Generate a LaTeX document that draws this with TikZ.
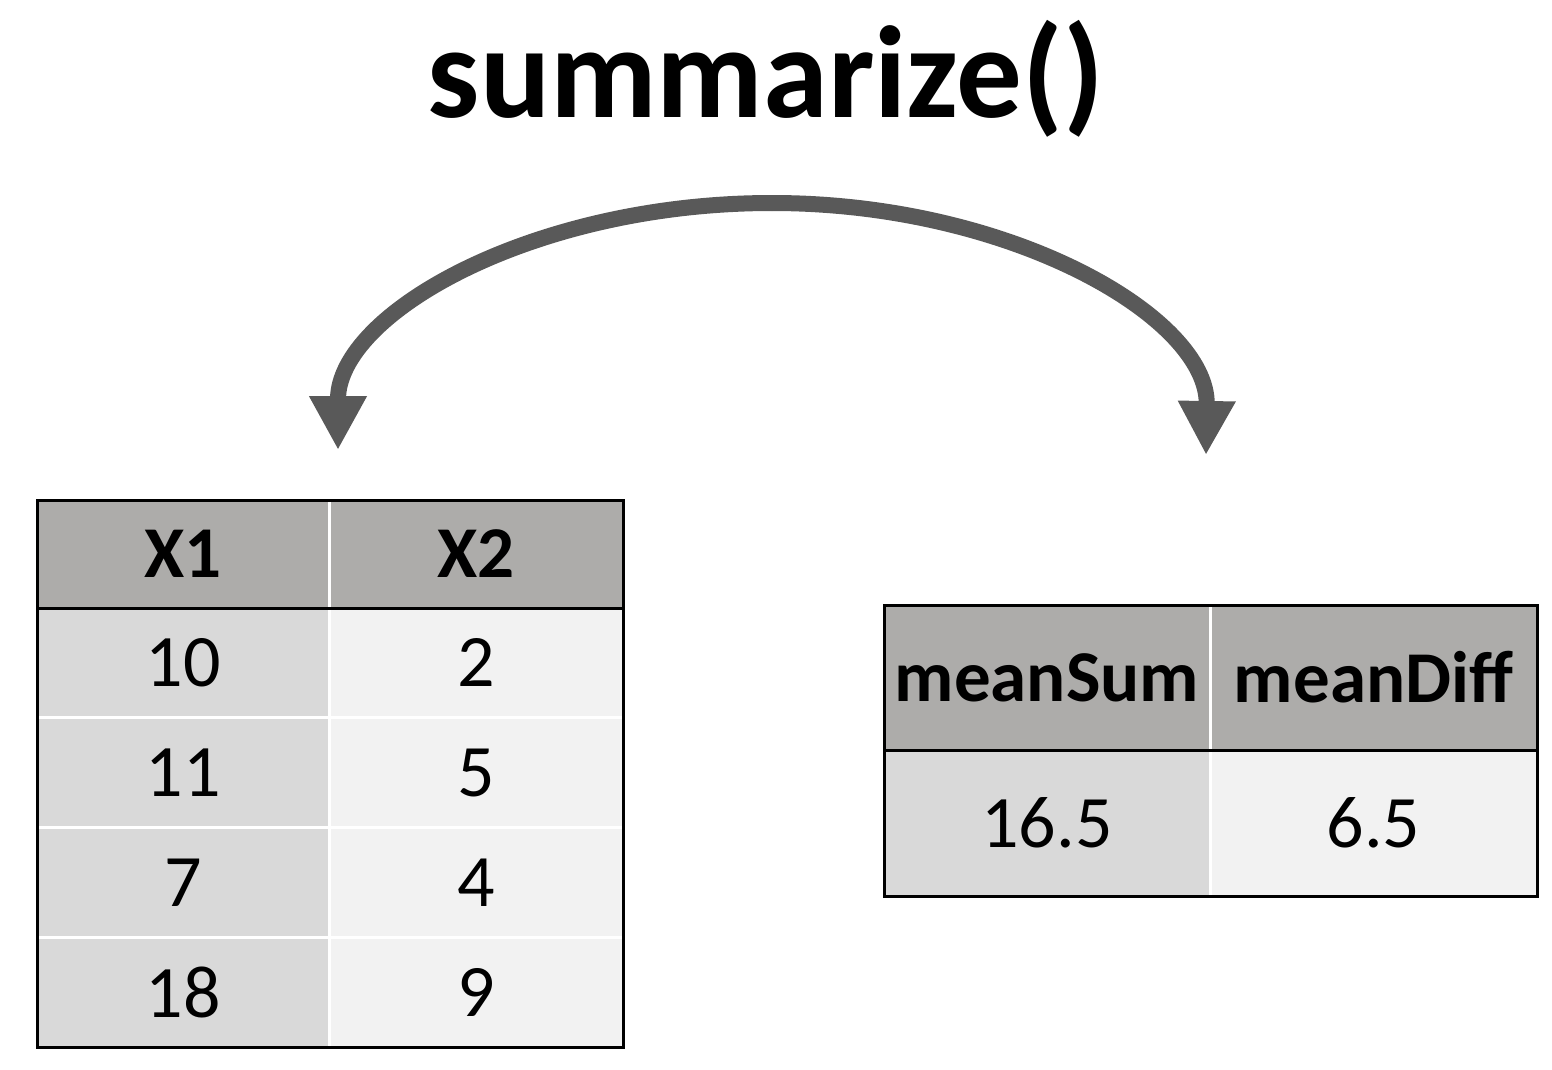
\documentclass[tikz,border=0pt]{standalone}
\usepackage{fontspec}
\setmainfont{Carlito}
\usetikzlibrary{arrows.meta,positioning}
\definecolor{hdgray}{RGB}{173,172,170}
\definecolor{colA}{RGB}{217,217,217}
\definecolor{colB}{RGB}{242,242,242}
\definecolor{arcgray}{RGB}{89,89,89}
\newcommand{\cellfont}{\fontsize{74}{80}\selectfont}

\begin{document}
\begin{tikzpicture}[x=1pt,y=-1pt,
  cell/.style={draw=white,line width=3pt,inner sep=0pt,outer sep=0pt,font=\cellfont},
  hdcell/.style={cell,fill=hdgray,font=\fontsize{73}{80}\selectfont\bfseries},
  cellA/.style={cell,fill=colA},
  cellB/.style={cell,fill=colB},
  arc/.style={arcgray,line width=16pt,-{Triangle[width=54pt,length=54pt]}}]
  \useasboundingbox (0,0) rectangle (1552,1070);

  \node[anchor=base,font=\fontsize{131}{136}\selectfont\bfseries] (title) at (766,118) {summarize()};

  % left table
  \node[hdcell,minimum width=292pt,minimum height=108pt,anchor=north west] (x1) at (37,500) {X1};
  \node[hdcell,minimum width=294pt,minimum height=108pt,right=0pt of x1] (x2) {X2};
  \foreach \a/\b [count=\i] in {10/2,11/5,7/4,18/9}{
    \node[cellA,minimum width=292pt,minimum height=109.75pt,anchor=north west] (a\i) at (37,{608+109.75*(\i-1)}) {\a};
    \node[cellB,minimum width=294pt,minimum height=109.75pt,right=0pt of a\i] (b\i) {\b};
  }
  \draw[line width=3pt] (x1.north west) rectangle (b4.south east);
  \draw[line width=3pt] (x1.south west) -- (x2.south east);

  % right table
  \node[hdcell,minimum width=326pt,minimum height=145pt,anchor=north west] (ms) at (884,605) {meanSum};
  \node[hdcell,minimum width=327pt,minimum height=145pt,right=0pt of ms] (md) {meanDiff};
  \node[cellA,minimum width=326pt,minimum height=146pt,below=0pt of ms] (v1) {16.5};
  \node[cellB,minimum width=327pt,minimum height=146pt,right=0pt of v1] (v2) {6.5};
  \draw[line width=3pt] (ms.north west) rectangle (v2.south east);
  \draw[line width=3pt] (ms.south west) -- (md.south east);

  % arc
  \coordinate (arcL) at (338,450);
  \coordinate (arcTop) at (772,203);
  \coordinate (arcR) at (1206,455);
  \draw[arc] (arcTop) .. controls (1012,203) and (1208,318) .. (arcR);
  \draw[arc] (arcTop) .. controls (532,203) and (338,314) .. (arcL);
\end{tikzpicture}
\end{document}
